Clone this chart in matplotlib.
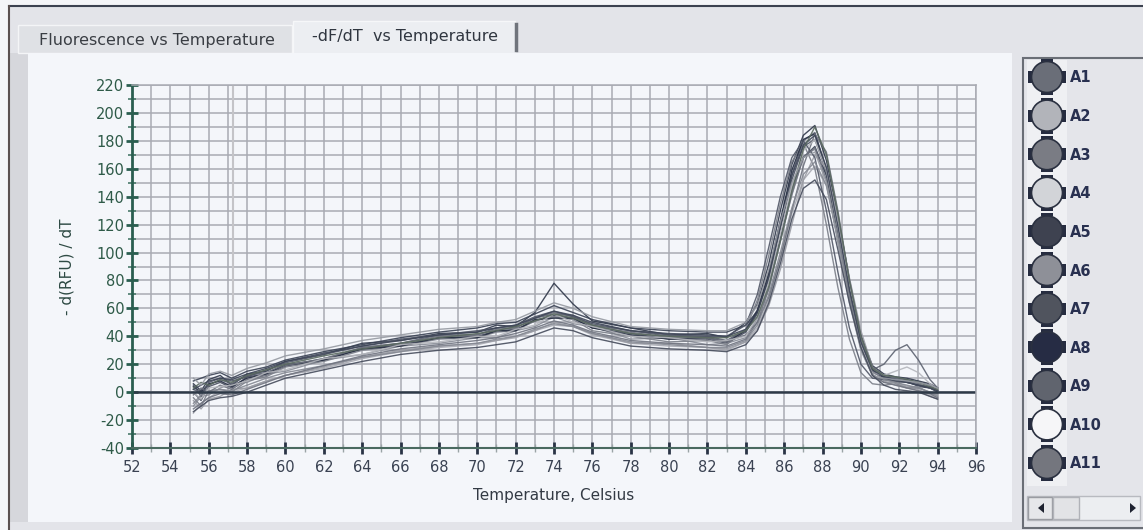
import matplotlib
matplotlib.use("Agg")
import matplotlib.pyplot as plt
from matplotlib.patches import Rectangle, Circle, Polygon
from matplotlib.ticker import MultipleLocator

plt.rcParams['font.family'] = ['DejaVu Sans']
plt.rcParams['axes.unicode_minus'] = False

# temperature grid shared by all wells (Celsius)
temps = [55.2, 55.6, 56.0, 56.6, 57.2, 58, 59, 60, 62, 64, 66, 68, 70, 71, 72, 73, 74, 75, 76, 78,
         80, 82, 83, 84, 84.6, 85.2, 85.8, 86.4, 87.0, 87.6, 88.2, 88.8, 89.4, 90.0, 90.6, 91.2,
         91.8, 92.4, 93.0, 93.6, 94.0]

# -d(RFU)/dT per well
wells = [
    [0, -6, 4, 7, 3, 11, 13, 19, 24, 31, 34, 39, 40, 44, 45, 51, 55, 53, 46, 42, 38, 38, 35, 43, 56, 82, 117, 152, 176, 181, 158, 116, 70, 34, 14, 11, 7, 8, 4, 3, 1],
    [-10, -3, -2, 3, 6, 7, 13, 15, 23, 27, 33, 35, 39, 39, 44, 47, 54, 49, 47, 38, 39, 34, 35, 39, 53, 74, 110, 141, 169, 174, 156, 110, 69, 31, 13, 7, 7, 4, 4, -1, -2],
    [6, 1, 9, 12, 5, 13, 15, 22, 27, 35, 37, 42, 43, 48, 47, 57, 78, 63, 51, 46, 41, 42, 39, 50, 63, 92, 130, 163, 184, 191, 166, 126, 81, 41, 19, 13, 11, 10, 8, 6, 3],
    [-15, -8, -4, 1, 0, 3, 8, 12, 17, 24, 29, 32, 34, 37, 39, 44, 48, 47, 41, 35, 33, 32, 30, 36, 46, 66, 96, 128, 152, 162, 148, 112, 72, 38, 16, 9, 7, 4, 2, -2, -4],
    [2, -1, 5, 9, 6, 12, 14, 20, 23, 32, 35, 41, 41, 46, 46, 53, 56, 55, 48, 44, 40, 40, 37, 45, 59, 86, 122, 156, 180, 186, 160, 118, 74, 37, 16, 20, 30, 34, 23, 9, 3],
    [-4, -10, 1, 2, 0, 8, 11, 18, 22, 30, 33, 38, 39, 43, 44, 51, 54, 52, 44, 40, 36, 37, 34, 45, 66, 98, 135, 165, 178, 160, 120, 75, 38, 14, 6, 5, 6, 3, 3, 0, -1],
    [8, 10, 12, 14, 10, 15, 18, 23, 29, 34, 39, 43, 46, 49, 50, 56, 62, 57, 52, 46, 44, 43, 43, 48, 58, 80, 110, 146, 168, 176, 155, 116, 72, 36, 16, 11, 10, 9, 7, 5, 2],
    [-6, -12, -5, -3, 2, 3, 8, 12, 18, 25, 30, 33, 35, 37, 40, 44, 50, 47, 42, 35, 35, 32, 31, 36, 44, 62, 88, 120, 152, 170, 160, 125, 82, 44, 18, 8, 5, 3, 1, -3, -5],
    [4, 0, 6, 8, 4, 10, 13, 19, 23, 31, 33, 39, 39, 44, 44, 52, 53, 53, 46, 41, 38, 39, 36, 44, 58, 85, 123, 159, 181, 185, 159, 116, 71, 35, 15, 10, 8, 7, 5, 3, 0],
    [-2, 3, 0, 5, 2, 9, 12, 19, 24, 32, 35, 40, 41, 45, 46, 53, 57, 54, 47, 43, 39, 39, 36, 41, 50, 68, 96, 130, 162, 185, 172, 130, 80, 40, 18, 12, 10, 8, 6, 3, 1],
    [0, -5, 3, 4, 5, 8, 14, 16, 24, 27, 34, 36, 40, 40, 45, 48, 56, 50, 47, 40, 39, 36, 37, 40, 54, 79, 113, 147, 173, 181, 159, 117, 71, 34, 14, 12, 15, 18, 14, 6, 2],
    [5, -3, 7, 10, 8, 11, 16, 21, 27, 33, 38, 41, 44, 46, 48, 54, 58, 54, 49, 44, 41, 40, 40, 48, 70, 104, 140, 168, 180, 168, 130, 86, 46, 20, 10, 9, 8, 7, 5, 4, 1],
    [-8, -2, 0, 2, 1, 5, 10, 14, 19, 25, 29, 33, 35, 38, 40, 45, 49, 47, 42, 36, 34, 32, 32, 37, 48, 70, 100, 132, 156, 165, 148, 110, 70, 37, 15, 9, 7, 5, 3, 0, -3],
    [2, 5, 8, 10, 9, 13, 17, 22, 28, 33, 37, 41, 43, 46, 48, 53, 58, 55, 50, 44, 42, 41, 40, 45, 57, 83, 119, 155, 177, 184, 161, 119, 73, 36, 16, 11, 9, 7, 5, 3, 1],
    [-12, -8, -4, -1, -2, 2, 7, 12, 19, 26, 31, 34, 37, 39, 42, 46, 51, 48, 43, 37, 35, 34, 33, 38, 50, 74, 108, 142, 168, 175, 152, 108, 66, 31, 12, 7, 5, 3, 1, -1, -4],
    [3, 7, 5, 9, 7, 12, 16, 20, 26, 31, 35, 39, 42, 44, 47, 51, 56, 53, 48, 42, 40, 39, 39, 44, 54, 76, 108, 144, 174, 190, 170, 128, 80, 40, 17, 12, 11, 9, 7, 4, 2],
    [10, 5, 13, 15, 12, 17, 21, 26, 31, 37, 41, 45, 47, 50, 52, 58, 64, 60, 54, 47, 45, 44, 44, 50, 62, 88, 122, 150, 168, 172, 150, 108, 64, 30, 12, 10, 9, 8, 7, 5, 3],
    [-14, -10, -6, -4, -3, 0, 5, 10, 16, 22, 27, 30, 32, 34, 36, 41, 46, 44, 39, 33, 31, 30, 29, 34, 44, 64, 92, 124, 146, 152, 138, 102, 64, 32, 12, 5, 2, 1, 0, -3, -5],
]
well_colors = ['#4a5060', '#8a8e98', '#30384a', '#a8aab2', '#5c6270', '#7a7e88', '#3a4254', '#9a9ca4',
               '#242c40', '#6c707c', '#b4b6bc', '#505666', '#848892', '#3e4658', '#707480', '#5a6a60',
               '#969aa2', '#464c5c']

legend_names = ['A1', 'A2', 'A3', 'A4', 'A5', 'A6', 'A7', 'A8', 'A9', 'A10', 'A11']
legend_colors = ['#6a6e78', '#b2b4ba', '#7a7c84', '#d2d4d8', '#3e4250', '#8e9098', '#50545e',
                 '#262c44', '#60646e', '#f6f6f8', '#74767e']

W, H = 1143, 530
fig = plt.figure(figsize=(W / 100, H / 100), dpi=100)
fig.patch.set_facecolor('#f4f5f8')

# window chrome, drawn in pixel coordinates
bg = fig.add_axes([0, 0, 1, 1])
bg.set_xlim(0, W)
bg.set_ylim(H, 0)
bg.axis('off')
bg.add_patch(Rectangle((9, 6), W - 9, H - 6, fc='#e3e4e9', ec='none'))
bg.plot([9, W], [6, 6], color='#3c4250', lw=1.5)
bg.plot([9, 9], [6, H], color='#5a5050', lw=1.5)
bg.add_patch(Rectangle((10, 53), 18, 469, fc='#d6d7dc', ec='none'))
# tabs
bg.add_patch(Rectangle((18, 25), 274, 28, fc='#dfe1e5', ec='#f4f5f7', lw=1))
bg.add_patch(Rectangle((293, 21), 222, 33, fc='#eceef2', ec='#f6f7f9', lw=1))
bg.plot([516, 516], [24, 50], color='#70747c', lw=2.5)
bg.text(157, 40, 'Fluorescence vs Temperature', ha='center', va='center', fontsize=11.5, color='#3a3e44')
bg.text(405, 37, '-dF/dT  vs Temperature', ha='center', va='center', fontsize=11.5, color='#303640')
# plot panel
bg.add_patch(Rectangle((28, 53), 984, 469, fc='#f4f6fa', ec='none'))
# legend panel
bg.add_patch(Rectangle((1023, 58), 125, 470, fc='#e4e5ea', ec='#6a6e76', lw=1.5))
bg.add_patch(Rectangle((1027, 60), 40, 426, fc='#eff0f3', ec='none'))
for i, (name, col) in enumerate(zip(legend_names, legend_colors)):
    cy = 77 + i * 38.6
    bg.add_patch(Rectangle((1028, cy - 6), 5, 12, fc='#262c40', ec='none'))
    bg.add_patch(Rectangle((1061, cy - 6), 5, 12, fc='#262c40', ec='none'))
    bg.add_patch(Rectangle((1041, cy - 18), 12, 3, fc='#262c40', ec='none'))
    bg.add_patch(Rectangle((1041, cy + 15), 12, 3, fc='#262c40', ec='none'))
    bg.add_patch(Circle((1047, cy), 15.5, fc=col, ec='#2a3040', lw=1.2))
    bg.text(1070, cy + 1, name, ha='left', va='center', fontsize=10.5, color='#283050', fontweight='bold')
# scrollbar
bg.add_patch(Rectangle((1027, 496), 113, 24, fc='#eceef1', ec='#b8bac0', lw=1))
bg.add_patch(Rectangle((1028, 497), 24, 22, fc='#e6e7ea', ec='#9a9ca2', lw=1))
bg.add_patch(Rectangle((1053, 497), 26, 22, fc='#e2e3e6', ec='#b0b2b8', lw=1))
bg.add_patch(Polygon([[1044, 503], [1044, 513], [1038, 508]], closed=True, fc='#1e2230'))
bg.add_patch(Polygon([[1130, 503], [1130, 513], [1136, 508]], closed=True, fc='#1e2230'))

# chart
ax = fig.add_axes([132 / W, 1 - 448 / H, (976 - 132) / W, 363 / H])
ax.set_facecolor('#f4f6fa')
ax.set_xlim(52, 96)
ax.set_ylim(-40, 220)
ax.xaxis.set_major_locator(MultipleLocator(2))
ax.xaxis.set_minor_locator(MultipleLocator(1))
ax.yaxis.set_major_locator(MultipleLocator(20))
ax.yaxis.set_minor_locator(MultipleLocator(10))
ax.grid(True, which='both', color='#a9abb3', lw=1.1)
ax.set_axisbelow(True)
for s in ['top', 'right']:
    ax.spines[s].set_color('#a9abb3')
    ax.spines[s].set_linewidth(1.1)
ax.spines['left'].set_color('#2a5e50')
ax.spines['left'].set_linewidth(2)
ax.spines['bottom'].set_color('#4a6a60')
ax.spines['bottom'].set_linewidth(1.5)
ax.tick_params(axis='y', which='major', direction='inout', length=9, width=2, color='#2a5e50',
               labelsize=10.5, labelcolor='#2e5a48', pad=1)
ax.tick_params(axis='y', which='minor', direction='inout', length=6, width=1.2, color='#4a7a6a')
ax.tick_params(axis='x', which='major', direction='inout', length=8, width=2, color='#2a3446',
               labelsize=10.5, labelcolor='#3a4252', pad=5)
ax.tick_params(axis='x', which='minor', direction='inout', length=6, width=1, color='#9aa4a6')

ax.axvline(57.25, color='#c4c4c8', lw=1.5, zorder=1.5)
for vals, col in zip(wells, well_colors):
    ax.plot(temps, vals, color=col, lw=1.0, alpha=0.9)
ax.axhline(0, color='#2e3a48', lw=1.8)

ax.set_xlabel('Temperature, Celsius', fontsize=11, color='#333a44', labelpad=9)
ax.set_ylabel('- d(RFU) / dT', fontsize=11, color='#2e4a44', labelpad=16)

fig.savefig('out.png', dpi=100, facecolor=fig.get_facecolor())
